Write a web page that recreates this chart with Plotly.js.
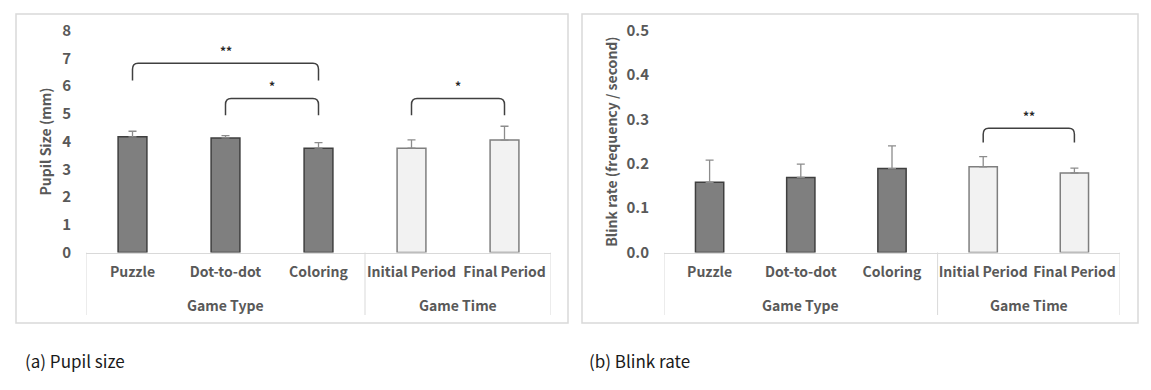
<!DOCTYPE html>
<html>
<head>
<meta charset="utf-8">
<script src="https://cdn.plot.ly/plotly-3.0.1.min.js"></script>
<style>
  html, body { margin: 0; padding: 0; background: #ffffff; }
  #chart { width: 1151px; height: 390px; }
</style>
</head>
<body>
<div id="chart"></div>
<script>
// ---- data ----
const categories = ['Puzzle', 'Dot-to-dot', 'Coloring', 'Initial Period', 'Final Period'];
const groups = ['Game Type', 'Game Type', 'Game Type', 'Game Time', 'Game Time'];

const pupilMean = [4.17, 4.13, 3.76, 3.76, 4.05];
const pupilErr  = [0.20, 0.08, 0.20, 0.30, 0.50];

const blinkMean = [0.158, 0.169, 0.189, 0.193, 0.179];
const blinkErr  = [0.050, 0.030, 0.051, 0.023, 0.011];

// significance brackets (category index pairs)
const pupilSigFrom  = [0, 1, 3];
const pupilSigTo    = [2, 2, 4];
const pupilSigTop   = [6.82, 5.55, 5.55];
const pupilSigLeg   = [6.20, 4.95, 4.95];
const pupilSigLabel = ['**', '*', '*'];

const blinkSigFrom  = [3];
const blinkSigTo    = [4];
const blinkSigTop   = [0.280];
const blinkSigLeg   = [0.248];
const blinkSigLabel = ['**'];

const pupilTicks = [0, 1, 2, 3, 4, 5, 6, 7, 8];
const blinkTicks = [0, 0.1, 0.2, 0.3, 0.4, 0.5];

// ---- styling ----
const TXT = '#595959';
const FONT = '"Noto Sans CJK KR", "Open Sans", sans-serif';
const darkFill = '#7f7f7f', darkLine = '#3f3f3f';
const lightFill = '#f2f2f2', lightLine = '#7f7f7f';
const W = 1151, H = 390;
const px = v => v / W;
const py = v => 1 - v / H;

const idx = categories.map((_, i) => i);
const fills = groups.map(g => g === 'Game Type' ? darkFill : lightFill);
const lines = groups.map(g => g === 'Game Type' ? darkLine : lightLine);

function barTrace(vals, errs, xa, ya) {
  return {
    type: 'bar', x: idx, y: vals, xaxis: xa, yaxis: ya, width: 0.31,
    marker: { color: fills, line: { color: lines, width: 1.5 } },
    error_y: { type: 'data', symmetric: false, array: errs, arrayminus: errs.map(() => 0),
               color: '#8c8c8c', thickness: 1.3, width: 4 },
    hoverinfo: 'skip', showlegend: false
  };
}

const data = [
  barTrace(pupilMean, pupilErr, 'x', 'y'),
  barTrace(blinkMean, blinkErr, 'x2', 'y2')
];

const yDomain = [py(252.5), py(30.5)];

function xAxis(domain) {
  return {
    domain: domain, range: [-0.5, 4.5], fixedrange: true,
    tickmode: 'array', tickvals: idx, ticktext: categories,
    ticks: '', showgrid: false, zeroline: false,
    showline: true, linecolor: '#d9d9d9', linewidth: 1,
    ticklabelstandoff: 7,
    tickfont: { family: FONT, size: 14, color: TXT, weight: 700 }
  };
}
function yAxis(range, ticks, fmt, title, anchor, standoff) {
  return {
    domain: yDomain, range: range, anchor: anchor, fixedrange: true,
    tickmode: 'array', tickvals: ticks, ticktext: ticks.map(v => v.toFixed(fmt)),
    ticks: '', showgrid: false, zeroline: false, showline: false,
    ticklabelstandoff: 14,
    tickfont: { family: FONT, size: 15, color: TXT, weight: 700 },
    title: { text: title, standoff: standoff, font: { family: FONT, size: 14, color: TXT, weight: 700 } }
  };
}

const shapes = [];
const annotations = [];

// panel borders
[[16, 568], [582, 1138]].forEach(([l, r]) => {
  shapes.push({ type: 'rect', xref: 'paper', yref: 'paper', x0: px(l), x1: px(r), y0: py(323), y1: py(14),
                line: { color: '#d9d9d9', width: 1.5 }, fillcolor: 'rgba(0,0,0,0)', layer: 'below' });
});

// category box dividers and group labels
function groupDecor(xref) {
  const bounds = [-0.5];
  for (let i = 1; i < groups.length; i++) if (groups[i] !== groups[i - 1]) bounds.push(i - 0.5);
  bounds.push(groups.length - 0.5);
  bounds.forEach(b => shapes.push({ type: 'line', xref: xref, yref: 'paper', x0: b, x1: b,
                                     y0: py(252.5), y1: py(315), line: { color: '#d9d9d9', width: 1 } }));
  const uniq = [...new Set(groups)];
  uniq.forEach(g => {
    const ids = idx.filter(i => groups[i] === g);
    const c = (ids[0] + ids[ids.length - 1]) / 2;
    annotations.push({ xref: xref, yref: 'paper', x: c, y: py(305), text: g, showarrow: false,
                       xanchor: 'center', yanchor: 'middle',
                       font: { family: FONT, size: 14, color: TXT, weight: 700 } });
  });
}
groupDecor('x');
groupDecor('x2');

// significance brackets
function brackets(from, to, top, leg, labels, xref, yref, yPerPx) {
  from.forEach((a, k) => {
    const b = to[k];
    const rx = 0.06, ry = 6 * yPerPx;
    const t = top[k], l = leg[k];
    const path = `M ${a},${l} L ${a},${t - ry} Q ${a},${t} ${a + rx},${t} L ${b - rx},${t} Q ${b},${t} ${b},${t - ry} L ${b},${l}`;
    shapes.push({ type: 'path', xref: xref, yref: yref, path: path, line: { color: '#404040', width: 1.5 } });
    annotations.push({ xref: xref, yref: yref, x: (a + b) / 2, y: t, yshift: 2, text: labels[k], showarrow: false,
                       xanchor: 'center', yanchor: 'bottom',
                       font: { family: FONT, size: 12, color: '#262626', weight: 700 } });
  });
}
brackets(pupilSigFrom, pupilSigTo, pupilSigTop, pupilSigLeg, pupilSigLabel, 'x', 'y', 8 / 222);
brackets(blinkSigFrom, blinkSigTo, blinkSigTop, blinkSigLeg, blinkSigLabel, 'x2', 'y2', 0.5 / 222);

// captions
annotations.push({ xref: 'paper', yref: 'paper', x: px(23), y: py(360), text: '(a) Pupil size', showarrow: false,
                   xanchor: 'left', yanchor: 'middle', font: { family: FONT, size: 17, color: '#1a1a1a' } });
annotations.push({ xref: 'paper', yref: 'paper', x: px(587), y: py(360), text: '(b) Blink rate', showarrow: false,
                   xanchor: 'left', yanchor: 'middle', font: { family: FONT, size: 17, color: '#1a1a1a' } });

const layout = {
  width: W, height: H,
  margin: { l: 0, r: 0, t: 0, b: 0 },
  paper_bgcolor: '#ffffff', plot_bgcolor: 'rgba(0,0,0,0)',
  showlegend: false, barmode: 'overlay',
  font: { family: FONT, color: TXT },
  xaxis: xAxis([px(86), px(551)]),
  xaxis2: xAxis([px(664), px(1120)]),
  yaxis: yAxis([0, 8], pupilTicks, 0, 'Pupil Size (mm)', 'x', 7),
  yaxis2: yAxis([0, 0.5], blinkTicks, 1, 'Blink rate (frequency / second)', 'x2', 5),
  shapes: shapes,
  annotations: annotations
};
layout.xaxis.anchor = 'y';
layout.xaxis2.anchor = 'y2';

Plotly.newPlot('chart', data, layout, { staticPlot: true, displayModeBar: false });
</script>
</body>
</html>
